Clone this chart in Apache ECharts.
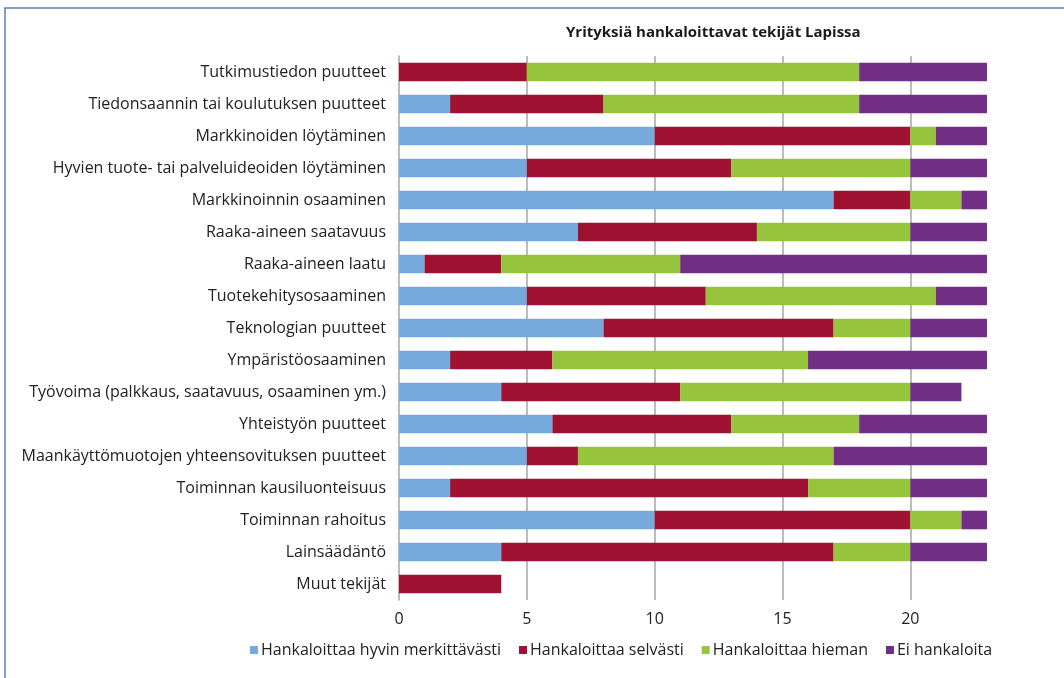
<!DOCTYPE html>
<html>
<head>
<meta charset="utf-8">
<script src="https://cdn.jsdelivr.net/npm/echarts@6/dist/echarts.min.js"></script>
<style>
  html, body { margin: 0; padding: 0; background: #fff; }
  #chart { width: 1064px; height: 678px; }
</style>
</head>
<body>
<div id="chart"></div>
<script>
// kategoriat ylhäältä alas
var categories = [
  'Tutkimustiedon puutteet',
  'Tiedonsaannin tai koulutuksen puutteet',
  'Markkinoiden löytäminen',
  'Hyvien tuote- tai palveluideoiden löytäminen',
  'Markkinoinnin osaaminen',
  'Raaka-aineen saatavuus',
  'Raaka-aineen laatu',
  'Tuotekehitysosaaminen',
  'Teknologian puutteet',
  'Ympäristöosaaminen',
  'Työvoima (palkkaus, saatavuus, osaaminen ym.)',
  'Yhteistyön puutteet',
  'Maankäyttömuotojen yhteensovituksen puutteet',
  'Toiminnan kausiluonteisuus',
  'Toiminnan rahoitus',
  'Lainsäädäntö',
  'Muut tekijät'
];
var seriesNames = ['Hankaloittaa hyvin merkittävästi', 'Hankaloittaa selvästi', 'Hankaloittaa hieman', 'Ei hankaloita'];
var hyvinMerkittavasti = [0, 2, 10, 5, 17, 7, 1, 5, 8, 2, 4, 6, 5, 2, 10, 4, 0];
var selvasti           = [5, 6, 10, 8, 3, 7, 3, 7, 9, 4, 7, 7, 2, 14, 10, 13, 4];
var hieman             = [13, 10, 1, 7, 2, 6, 7, 9, 3, 10, 9, 5, 10, 4, 2, 3, 0];
var eiHankaloita       = [5, 5, 2, 3, 1, 3, 12, 2, 3, 7, 2, 5, 6, 3, 1, 3, 0];
var xTicks = [5, 10, 15, 20];

var colors = ['#76aadd', '#9e1131', '#96c43c', '#722e84'];
var font = '"Open Sans", Lato, sans-serif';

var chart = echarts.init(document.getElementById('chart'), null, { renderer: 'canvas' });

var allData = [hyvinMerkittavasti, selvasti, hieman, eiHankaloita];
var series = [];
for (var i = 0; i < 4; i++) {
  var s = {
    name: seriesNames[i],
    type: 'bar',
    stack: 'yht',
    barCategoryGap: '42%',
    data: allData[i],
    itemStyle: { color: colors[i] },
    emphasis: { disabled: true },
    z: 2
  };
  if (i == 0) {
    // pystysuorat apuviivat
    s.markLine = {
      silent: true,
      symbol: 'none',
      z: 1,
      label: { show: false },
      lineStyle: { color: '#a6a6a6', width: 1.5, type: 'solid' },
      data: xTicks.map(function (v) { return { xAxis: v }; })
    };
  }
  series.push(s);
}

var option = {
  animation: false,
  color: colors,
  textStyle: { fontFamily: font },
  title: {
    text: 'Yrityksiä hankaloittavat tekijät Lapissa',
    left: 561,
    top: 20,
    textStyle: { fontSize: 15, fontWeight: 'bold', color: '#1a1a1a', fontFamily: font }
  },
  legend: {
    data: seriesNames,
    left: 245,
    top: 637,
    itemWidth: 8,
    itemHeight: 8,
    itemGap: 18,
    icon: 'rect',
    textStyle: { fontSize: 16, color: '#222', fontFamily: font, padding: [0, 0, 0, -2] }
  },
  grid: { left: 399, right: 77, top: 56, bottom: 78, containLabel: false },
  xAxis: {
    type: 'value',
    min: 0,
    max: 23,
    interval: 5,
    axisLine: { show: false },
    axisTick: { show: false },
    splitLine: { show: false },
    axisLabel: { showMaxLabel: false, fontSize: 16, color: '#222', margin: 11, fontFamily: font }
  },
  yAxis: {
    type: 'category',
    inverse: true,
    data: categories,
    axisLine: { show: true, lineStyle: { color: '#a6a6a6', width: 1.5 } },
    axisTick: { show: false },
    axisLabel: { fontSize: 16, color: '#222', margin: 13, fontFamily: font }
  },
  graphic: [{
    type: 'rect',
    shape: { x: 5, y: 8, width: 1200, height: 800 },
    style: { fill: 'none', stroke: '#5a80b8', lineWidth: 1.5 },
    silent: true
  }],
  series: series
};

chart.setOption(option);
</script>
</body>
</html>
